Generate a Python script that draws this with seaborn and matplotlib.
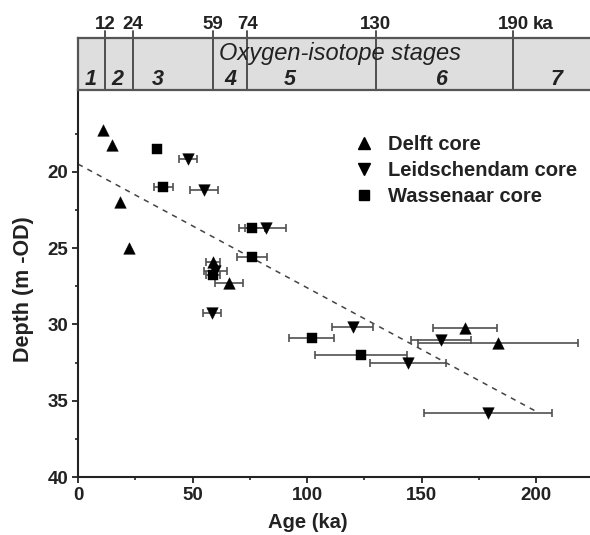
import numpy as np
import pandas as pd
import matplotlib
matplotlib.use("Agg")
import matplotlib.pyplot as plt
from matplotlib.lines import Line2D
import seaborn as sns

# ---------------- data ----------------
delft_age = [11, 15, 18.3, 22.3, 59, 66, 169, 183.5]
delft_depth = [17.3, 18.25, 22.0, 25.0, 25.9, 27.3, 30.25, 31.2]
delft_err = [0, 0, 0, 0, 3, 6, 14, 35]

leid_age = [48, 55, 82, 60, 58.4, 120, 158.4, 144, 179]
leid_depth = [19.2, 21.2, 23.7, 26.5, 29.25, 30.15, 31.05, 32.55, 35.8]
leid_err = [4, 6, 9, 5, 4, 9, 13, 16.5, 28]

wass_age = [34.4, 37.3, 76, 76, 59, 102, 123.5]
wass_depth = [18.5, 21.0, 23.7, 25.6, 26.8, 30.9, 32.0]
wass_err = [0, 4, 5.5, 6.7, 3, 10, 20]

core_names = ["Delft core", "Leidschendam core", "Wassenaar core"]

trend_age = [0, 200]
trend_depth = [19.5, 35.7]

stage_bounds = [12, 24, 59, 74, 130, 190]
stage_bound_labels = ["12", "24", "59", "74", "130", "190"]
stage_names = ["1", "2", "3", "4", "5", "6", "7"]
stage_label_x = [5.5, 17, 35, 66.5, 92.5, 159, 209]

x_ticks = [0, 50, 100, 150, 200]
y_ticks = [20, 25, 30, 35, 40]

# ---------------- build table ----------------
frames = []
for name, a, d, e in zip(core_names,
                         [delft_age, leid_age, wass_age],
                         [delft_depth, leid_depth, wass_depth],
                         [delft_err, leid_err, wass_err]):
    frames.append(pd.DataFrame({"age": a, "depth": d, "err": e, "core": name}))
df = pd.concat(frames, ignore_index=True)

markers = {"Delft core": "^", "Leidschendam core": "v", "Wassenaar core": "s"}
msizes = {"Delft core": 70, "Leidschendam core": 70, "Wassenaar core": 45}

sns.set_theme(style="ticks")
plt.rcParams["font.family"] = ["Liberation Sans", "DejaVu Sans"]
plt.rcParams["font.weight"] = "bold"

W, H = 590, 535
fig = plt.figure(figsize=(W / 100, H / 100), dpi=100)
ax = fig.add_axes([78 / W, 58 / H, 513 / W, 387 / H])
axb = fig.add_axes([78 / W, (H - 90) / H, 513 / W, 52 / H])

XMAX = 224
dark = "#222222"

# error bars
for name in core_names:
    sub = df[(df.core == name) & (df.err > 0)]
    ax.errorbar(sub.age, sub.depth, xerr=sub.err, fmt="none", ecolor="#505050",
                elinewidth=1.2, capsize=2.8, capthick=1.2, zorder=2)

# trend line
ax.plot(trend_age, trend_depth, color="#444444", lw=1.1, ls=(0, (3.5, 3.5)), zorder=1)

# points
for name in core_names:
    sns.scatterplot(data=df[df.core == name], x="age", y="depth", marker=markers[name],
                    s=msizes[name], color="black", edgecolor="black", linewidth=0.3,
                    ax=ax, legend=False, zorder=3)

ax.set_xlim(0, XMAX)
ax.set_ylim(40, 14.65)
ax.set_xticks(x_ticks)
ax.set_yticks(y_ticks)
ax.set_xticks([25, 75, 125, 175], minor=True)
ax.set_yticks([17.5, 22.5, 27.5, 32.5, 37.5], minor=True)
ax.tick_params(axis="both", which="major", length=4, width=1.3, color=dark,
               labelsize=13.5, labelcolor=dark, pad=3)
ax.tick_params(axis="both", which="minor", length=2.5, width=1.2, color=dark)
for lab in ax.get_xticklabels() + ax.get_yticklabels():
    lab.set_fontweight("bold")
for s in ["top", "right"]:
    ax.spines[s].set_visible(False)
for s in ["left", "bottom"]:
    ax.spines[s].set_color(dark)
    ax.spines[s].set_linewidth(1.5)

ax.set_xlabel("Age (ka)", fontsize=14.5, fontweight="bold", color=dark)
ax.set_ylabel("Depth (m -OD)", fontsize=15.5, fontweight="bold", color=dark)
ax.xaxis.set_label_coords((308 - 78) / 513, -(513 - 477) / 387)
ax.yaxis.set_label_coords(-(78 - 34) / 513, (477 - 289) / 387)

# legend
handles = [Line2D([], [], marker=markers[n], color="black", ls="none",
                  markersize=8 if n != "Wassenaar core" else 6.5) for n in core_names]
leg = ax.legend(handles, core_names, loc="upper left", frameon=False,
                bbox_to_anchor=(345 / W, 1 - 125 / H), bbox_transform=fig.transFigure,
                handlelength=0.9, handletextpad=0.75, labelspacing=0.35, borderpad=0,
                prop={"size": 14.5, "weight": "bold"})
for t in leg.get_texts():
    t.set_color(dark)

# ---------------- stage box ----------------
axb.set_xlim(0, XMAX)
axb.set_ylim(0, 1)
axb.set_facecolor("#dedede")
axb.set_xticks([])
axb.set_yticks([])
for s in ["top", "left", "bottom"]:
    axb.spines[s].set_color("#555555")
    axb.spines[s].set_linewidth(1.6)
axb.spines["right"].set_visible(False)

for b, lab in zip(stage_bounds, stage_bound_labels):
    axb.plot([b, b], [0, 1.13], color="#444444", lw=1.3, clip_on=False)
    axb.text(b, 1.17, lab, ha="center", va="baseline", fontsize=13.5,
             fontweight="bold", color=dark)
axb.annotate("ka", xy=(stage_bounds[-1], 1.17), xytext=(14, 0),
             textcoords="offset points", ha="left", va="baseline",
             fontsize=13.5, fontweight="bold", color=dark, annotation_clip=False)

for x, lab in zip(stage_label_x, stage_names):
    axb.text(x, 0.1, lab, ha="center", va="baseline", fontsize=15.5,
             fontweight="bold", style="italic", color=dark)

axb.text(114.5, 0.58, "Oxygen-isotope stages", ha="center", va="baseline",
         fontsize=17, fontweight="normal", style="italic", color=dark)

fig.savefig("out.png", dpi=100)
